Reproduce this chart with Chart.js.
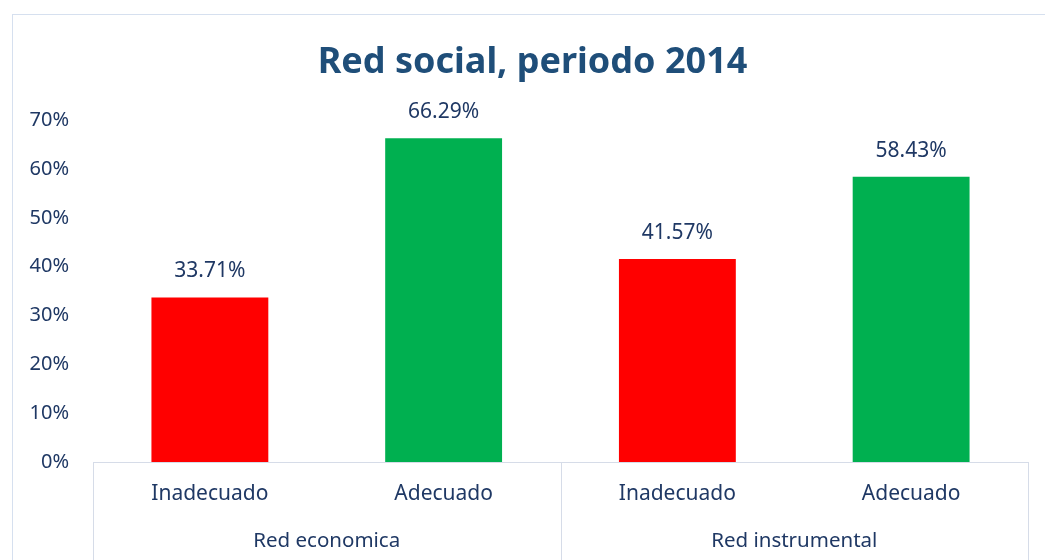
<!DOCTYPE html>
<html>
<head>
<meta charset="utf-8">
<script src="https://cdn.jsdelivr.net/npm/chart.js@4.4.0/dist/chart.umd.min.js"></script>
<style>
    html, body { margin: 0; padding: 0; background: #fff; overflow: hidden; width: 1045px; height: 560px; }
    .marco { position: absolute; left: 12px; top: 14px; width: 1047px; height: 562px; border: 1px solid #d6e0ef; box-sizing: border-box; }
    canvas { display: block; }
</style>
</head>
<body>
<div class="marco"><canvas id="redChart" width="1045" height="560"></canvas></div>
<script>
    const categorias = ['Inadecuado', 'Adecuado', 'Inadecuado', 'Adecuado'];
    const grupos = ['Red economica', 'Red instrumental'];
    const porcentajes = [33.71, 66.29, 41.57, 58.43];
    const coloresBarras = ['#ff0000', '#00b050', '#ff0000', '#00b050'];
    const ticksY = [0, 10, 20, 30, 40, 50, 60, 70];

    const textoAzul = '#1f3864';
    const lineaEje = '#d6dce8';
    const fuente = "'Noto Sans', 'Open Sans', sans-serif";

    // etiquetas de valor encima de cada barra
    const valoresPlugin = {
        id: 'valores',
        afterDatasetsDraw(chart) {
            const ctx = chart.ctx;
            const meta = chart.getDatasetMeta(0);
            ctx.save();
            ctx.font = '21px ' + fuente;
            ctx.fillStyle = textoAzul;
            ctx.textAlign = 'center';
            ctx.textBaseline = 'middle';
            meta.data.forEach((bar, i) => {
                ctx.fillText(porcentajes[i].toFixed(2) + '%', bar.x, bar.y - 26);
            });
            ctx.restore();
        }
    };

    // eje de categorias en dos niveles, con separadores entre grupos
    const ejeDobleplugin = {
        id: 'ejeDoble',
        afterLayout(chart) {
            // el titulo va un poco a la derecha del centro del lienzo
            if (chart.titleBlock) {
                chart.titleBlock.left += 5;
                chart.titleBlock.right += 5;
            }
        },
        afterDraw(chart) {
            const ctx = chart.ctx;
            const x = chart.scales.x;
            const area = chart.chartArea;
            const paso = x.getPixelForValue(1) - x.getPixelForValue(0);
            ctx.save();
            ctx.strokeStyle = lineaEje;
            ctx.lineWidth = 1;
            [0, 2, 4].forEach(i => {
                const px = Math.round(x.getPixelForValue(i) - paso / 2) + 0.5;
                ctx.beginPath();
                ctx.moveTo(px, area.bottom);
                ctx.lineTo(px, chart.height);
                ctx.stroke();
            });
            ctx.font = '21px ' + fuente;
            ctx.fillStyle = textoAzul;
            ctx.textAlign = 'center';
            ctx.textBaseline = 'middle';
            categorias.forEach((c, i) => {
                ctx.fillText(c, x.getPixelForValue(i), area.bottom + 32);
            });
            ctx.font = '20.5px ' + fuente;
            grupos.forEach((g, j) => {
                const cx = (x.getPixelForValue(j * 2) + x.getPixelForValue(j * 2 + 1)) / 2;
                ctx.fillText(g, cx, area.bottom + 79);
            });
            ctx.restore();
        }
    };

    new Chart(document.getElementById('redChart').getContext('2d'), {
        type: 'bar',
        data: {
            labels: categorias,
            datasets: [{
                data: porcentajes,
                backgroundColor: coloresBarras,
                borderWidth: 0,
                categoryPercentage: 1,
                barPercentage: 0.5
            }]
        },
        options: {
            responsive: false,
            animation: false,
            layout: { padding: { left: 14, right: 30, bottom: 105 } },
            plugins: {
                legend: { display: false },
                tooltip: { enabled: false },
                title: {
                    display: true,
                    text: 'Red social, periodo 2014',
                    color: '#1f4e79',
                    font: { family: fuente, size: 36, weight: 'bold' },
                    padding: { top: 26, bottom: 36 }
                }
            },
            scales: {
                x: {
                    ticks: { display: false },
                    grid: { display: false },
                    border: { display: true, color: lineaEje, width: 1 }
                },
                y: {
                    min: 0,
                    max: 70,
                    afterBuildTicks(scale) {
                        scale.ticks = ticksY.map(v => ({ value: v }));
                    },
                    afterFit(scale) { scale.width = 66; },
                    ticks: {
                        color: textoAzul,
                        padding: 24,
                        font: { family: fuente, size: 20 },
                        callback: v => v + '%'
                    },
                    grid: { display: false, drawTicks: false },
                    border: { display: false }
                }
            }
        },
        plugins: [valoresPlugin, ejeDobleplugin]
    });
</script>
</body>
</html>
